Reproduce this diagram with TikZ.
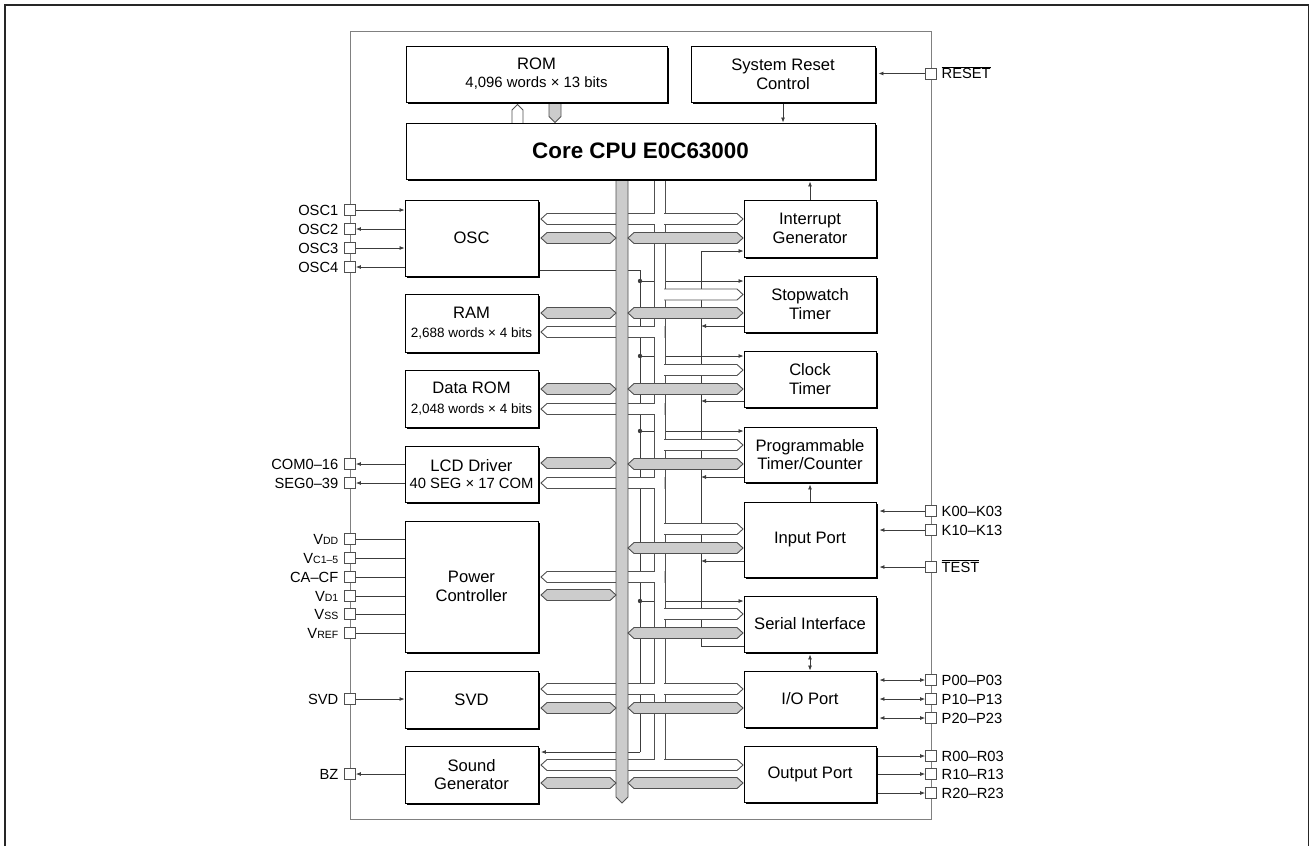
\documentclass[tikz,border=0pt]{standalone}
\usepackage{fontspec}
\setmainfont{Liberation Sans}
\usetikzlibrary{arrows.meta,shadows}
\definecolor{busgray}{HTML}{CCCCCC}
\definecolor{edgec}{HTML}{505050}
\definecolor{sigc}{HTML}{3C3C3C}
\newcommand\lblf{\fontsize{16.6}{18.7}\selectfont}
\newcommand\pinf{\fontsize{14.7}{17}\selectfont}
\newcommand\subf{\fontsize{10.5}{12}\selectfont}
\newcommand\grayhex[3]{\filldraw[gb] (#1,#3) -- (#1+6,#3-5.5) -- (#2-6,#3-5.5) -- (#2,#3) -- (#2-6,#3+5.5) -- (#1+6,#3+5.5) -- cycle;}
\pgfdeclarelayer{back}
\pgfsetlayers{back,main}
\begin{document}
\begin{tikzpicture}[x=1pt,y=-1pt,
  >={Latex[length=5pt,width=4pt]},
  box/.style={draw=black, line width=0.9pt, fill=white, inner sep=0pt, align=center, font=\lblf,
     general shadow={fill=black, shadow xshift=2pt, shadow yshift=-2pt}},
  lbox/.style={box, minimum width=133pt},
  rbox/.style={box, minimum width=132pt},
  pin/.style={draw=edgec, fill=white, line width=0.8pt, minimum size=11pt, inner sep=0pt},
  pinlabel/.style={font=\pinf, inner sep=0pt},
  sig/.style={draw=sigc, line width=0.8pt},
  hb/.style={draw=edgec, fill=white, line width=0.9pt},
  hbin/.style={draw=white, line width=9.8pt},
  gb/.style={draw=edgec, fill=busgray, line width=0.9pt}]
\useasboundingbox (0,0) rectangle (1313,846);

% ---------------- boxes ----------------
\node[box, minimum width=261pt, minimum height=56pt] (rom) at (536.5,74)
  {ROM\\[-1pt]{\fontsize{14.9}{17}\selectfont 4,096 words × 13 bits}};
\node[box, minimum width=184pt, minimum height=56pt] (rst) at (783,74) {System Reset\\Control};
\node[box, minimum width=469pt, minimum height=56pt, font=\fontsize{22.4}{26}\selectfont\bfseries] (cpu) at (640.5,151) {Core CPU E0C63000};

\node[lbox, minimum height=76pt] (osc) at (471.5,238) {OSC};
\node[lbox, minimum height=58pt] (ram) at (471.5,323) {RAM\\[1pt]{\fontsize{13.5}{16}\selectfont 2,688 words × 4 bits}};
\node[lbox, minimum height=57pt] (drom) at (471.5,398.5) {Data ROM\\[1pt]{\fontsize{13.5}{16}\selectfont 2,048 words × 4 bits}};
\node[lbox, minimum height=56pt] (lcd) at (471.5,474) {LCD Driver\\[-1pt]{\fontsize{14.8}{17}\selectfont 40 SEG × 17 COM}};
\node[lbox, minimum height=131pt] (pwr) at (471.5,586.5) {Power\\Controller};
\node[lbox, minimum height=57pt] (svd) at (471.5,699.5) {SVD};
\node[lbox, minimum height=57pt] (snd) at (471.5,774.5) {Sound\\Generator};

\node[rbox, minimum height=57pt] (intg) at (810,228.5) {Interrupt\\Generator};
\node[rbox, minimum height=56pt] (stw) at (810,304) {Stopwatch\\Timer};
\node[rbox, minimum height=56pt] (clk) at (810,379) {Clock\\Timer};
\node[rbox, minimum height=55pt] (ptc) at (810,454.5) {Programmable\\Timer/Counter};
\node[rbox, minimum height=75pt] (inp) at (810,539.5) {Input Port};
\node[rbox, minimum height=56pt] (ser) at (810,624) {Serial Interface};
\node[rbox, minimum height=56pt] (iop) at (810,699) {I/O Port};
\node[rbox, minimum height=56pt] (outp) at (810,774) {Output Port};

% ---------------- left pins ----------------
\node[pin] (posc1) at (350,210) {};  \node[pinlabel, anchor=base east] (losc1) at (338.5,215.2) {OSC1};
\node[pin] (posc2) at (350,229) {};  \node[pinlabel, anchor=base east] (losc2) at (338.5,234.2) {OSC2};
\node[pin] (posc3) at (350,248) {};  \node[pinlabel, anchor=base east] (losc3) at (338.5,253.2) {OSC3};
\node[pin] (posc4) at (350,267) {};  \node[pinlabel, anchor=base east] (losc4) at (338.5,272.2) {OSC4};
\node[pin] (pcom) at (350,464) {};   \node[pinlabel, anchor=base east] (lcom) at (338.5,469.2) {COM0–16};
\node[pin] (pseg) at (350,483) {};   \node[pinlabel, anchor=base east] (lseg) at (338.5,488.2) {SEG0–39};
\node[pin] (pvdd) at (350,539) {};   \node[pinlabel, anchor=base east] (lvdd) at (338.5,544.2) {V{\subf DD}};
\node[pin] (pvc) at (350,558) {};    \node[pinlabel, anchor=base east] (lvc) at (338.5,563.2) {V{\subf C1–5}};
\node[pin] (pca) at (350,577) {};    \node[pinlabel, anchor=base east] (lca) at (338.5,582.2) {CA–CF};
\node[pin] (pvd1) at (350,596) {};   \node[pinlabel, anchor=base east] (lvd1) at (338.5,601.2) {V{\subf D1}};
\node[pin] (pvss) at (350,614) {};   \node[pinlabel, anchor=base east] (lvss) at (338.5,619.2) {V{\subf SS}};
\node[pin] (pvref) at (350,633) {};  \node[pinlabel, anchor=base east] (lvref) at (338.5,638.2) {V{\subf REF}};
\node[pin] (psvd) at (350,699) {};   \node[pinlabel, anchor=base east] (lsvd) at (338.5,704.2) {SVD};
\node[pin] (pbz) at (350,774) {};    \node[pinlabel, anchor=base east] (lbz) at (338.5,779.2) {BZ};

% ---------------- right pins ----------------
\node[pin] (preset) at (931,73.5) {}; \node[pinlabel, anchor=base west] (lreset) at (941.5,78.7) {$\overline{\hbox{RESET}}$};
\node[pin] (pk0) at (931,511) {};  \node[pinlabel, anchor=base west] (lk0) at (941.5,516.2) {K00–K03};
\node[pin] (pk1) at (931,530) {};  \node[pinlabel, anchor=base west] (lk1) at (941.5,535.2) {K10–K13};
\node[pin] (ptest) at (931,567) {};\node[pinlabel, anchor=base west] (ltest) at (941.5,572.2) {$\overline{\hbox{TEST}}$};
\node[pin] (pp0) at (931,680) {};  \node[pinlabel, anchor=base west] (lp0) at (941.5,685.2) {P00–P03};
\node[pin] (pp1) at (931,699) {};  \node[pinlabel, anchor=base west] (lp1) at (941.5,704.2) {P10–P13};
\node[pin] (pp2) at (931,718) {};  \node[pinlabel, anchor=base west] (lp2) at (941.5,723.2) {P20–P23};
\node[pin] (pr0) at (931,756) {};  \node[pinlabel, anchor=base west] (lr0) at (941.5,761.2) {R00–R03};
\node[pin] (pr1) at (931,774) {};  \node[pinlabel, anchor=base west] (lr1) at (941.5,779.2) {R10–R13};
\node[pin] (pr2) at (931,793) {};  \node[pinlabel, anchor=base west] (lr2) at (941.5,798.2) {R20–R23};

% junction coordinates
\coordinate (ckA) at (640,270);
\coordinate (ckB) at (640,752);
\coordinate (d1) at (640,281);
\coordinate (d2) at (640,356);
\coordinate (d3) at (640,431);
\coordinate (d4) at (640,601);
\coordinate (irT) at (701,251);
\coordinate (irB) at (701,646);
\coordinate (i1) at (701,326);
\coordinate (i2) at (701,401);
\coordinate (i3) at (701,477);
\coordinate (i4) at (701,561);

\begin{pgfonlayer}{back}
% frames
\draw[line width=1.2pt, black!85] (5,846) -- (5,5) -- (1308.5,5) -- (1308.5,846);
\draw[line width=1pt, black!50] (350,31) rectangle (931,819);

% left pin connectors
\draw[sig,->] (posc1.east) -- (posc1 -| osc.west);
\draw[sig,->] (posc2 -| osc.west) -- (posc2.east);
\draw[sig,->] (posc3.east) -- (posc3 -| osc.west);
\draw[sig,->] (posc4 -| osc.west) -- (posc4.east);
\draw[sig,->] (pcom -| lcd.west) -- (pcom.east);
\draw[sig,->] (pseg -| lcd.west) -- (pseg.east);
\foreach \p in {pvdd,pvc,pca,pvd1,pvss,pvref} {\draw[sig] (\p.east) -- (\p -| pwr.west);}
\draw[sig,->] (psvd.east) -- (psvd -| svd.west);
\draw[sig,->] (pbz -| snd.west) -- (pbz.east);

% right pin connectors
\draw[sig,->,shorten >=3pt] (preset.west) -- (preset -| rst.east);
\draw[sig,->,shorten >=3pt] (pk0.west) -- (pk0 -| inp.east);
\draw[sig,->,shorten >=3pt] (pk1.west) -- (pk1 -| inp.east);
\draw[sig,->,shorten >=3pt] (ptest.west) -- (ptest -| inp.east);
\foreach \p in {pp0,pp1,pp2} {\draw[sig,<->,shorten <=3pt] (\p -| iop.east) -- (\p.west);}
\foreach \p in {pr0,pr1,pr2} {\draw[sig,->] (\p -| outp.east) -- (\p.west);}

% control arrows
\draw[sig,->,shorten <=2pt] (rst.south) -- (rst.south |- cpu.north);
\draw[sig,->,shorten >=2pt] (intg.north) -- (intg.north |- cpu.south);
\draw[sig,->,shorten >=2pt] (inp.north) -- (ptc.south);
\draw[sig,<->,shorten <=2pt] (ser.south) -- (iop.north);

% clock distribution
\draw[sig] (osc.east |- ckA) -- (ckA) -- (ckB);
\draw[sig,->,shorten >=2.5pt] (ckB) -- (ckB -| snd.east);
\foreach \d/\b in {d1/stw,d2/clk,d3/ptc,d4/ser} {
  \draw[sig,->] (\d) -- (\d -| \b.west);
  \fill[sigc] (\d) circle[radius=2.2pt];
}
% interrupt collection
\draw[sig,->] (ser.west |- irB) -- (irB) -- (irT) -- (irT -| intg.west);
\foreach \i/\b in {i1/stw,i2/clk,i3/ptc,i4/inp} {\draw[sig,->] (\b.west |- \i) -- (\i);}

% hollow (address) bus
\filldraw[hb] (654,179) rectangle (665,765);
\foreach \y in {332,409,483,577} {
  \filldraw[hb] (541,\y) -- (547,\y-5.5) -- (664,\y-5.5) -- (664,\y+5.5) -- (547,\y+5.5) -- cycle;}
\foreach \y in {294.5,370,445,529,614} {
  \filldraw[hb] (655,\y-5.5) -- (737,\y-5.5) -- (743,\y) -- (737,\y+5.5) -- (655,\y+5.5) -- cycle;}
\foreach \y in {219,689,765} {
  \filldraw[hb] (541,\y) -- (547,\y-5.5) -- (737,\y-5.5) -- (743,\y) -- (737,\y+5.5) -- (547,\y+5.5) -- cycle;}
\draw[hbin] (659.5,179.6) -- (659.5,765);
\foreach \y in {332,409,483,577} {\draw[hbin] (547,\y) -- (659.5,\y);}
\foreach \y in {294.5,370,445,529,614} {\draw[hbin] (659.5,\y) -- (737,\y);}
\foreach \y in {219,689,765} {\draw[hbin] (547,\y) -- (737,\y);}

% gray (data) bus
\filldraw[gb] (616,179) -- (628,179) -- (628,797) -- (622,803) -- (616,797) -- cycle;
\foreach \y in {238,313,389,463,595,708,783} {\grayhex{541}{616}{\y}}
\foreach \y in {238,313,389,464,548,633,708,783} {\grayhex{628}{743}{\y}}

% ROM <-> CPU
\filldraw[hb] (512,124) -- (512,110) -- (517.5,104.5) -- (523,110) -- (523,124);
\filldraw[gb] (549,103) -- (561,103) -- (561,116.5) -- (555,122.5) -- (549,116.5) -- cycle;
\end{pgfonlayer}
\end{tikzpicture}
\end{document}
